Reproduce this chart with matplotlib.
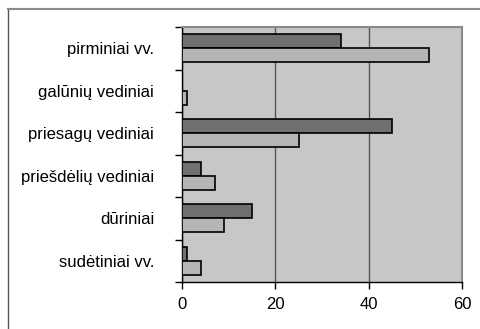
import matplotlib.pyplot as plt
import numpy as np
from matplotlib.lines import Line2D

plt.rcParams['font.family'] = ['Liberation Sans', 'DejaVu Sans']

categories = ["pirminiai vv.", "galūnių vediniai", "priesagų vediniai",
              "priešdėlių vediniai", "dūriniai", "sudėtiniai vv."]
dark_values = [34, 0, 45, 4, 15, 1]
light_values = [53, 1, 25, 7, 9, 4]
x_ticks = [0, 20, 40, 60]

fig = plt.figure(figsize=(4.8, 3.29), dpi=100)
ax = fig.add_axes([182 / 480, 1 - 282 / 329, 280 / 480, 255 / 329])

pos = np.arange(len(categories))
h = 0.33
ax.barh(pos - h / 2, dark_values, height=h, color="#707072",
        edgecolor="black", linewidth=1.2, zorder=3)
ax.barh(pos + h / 2, light_values, height=h, color="#b5b5b8",
        edgecolor="black", linewidth=1.2, zorder=3)

ax.set_facecolor("#c7c7c9")
ax.set_xlim(0, 60)
ax.set_ylim(len(categories) - 0.5, -0.5)
ax.set_xticks(x_ticks)
ax.set_yticks(np.arange(len(categories) + 1) - 0.5, minor=True)
ax.set_yticks(pos)
ax.set_yticklabels(categories)
ax.tick_params(axis="y", which="major", length=0, pad=20, labelsize=12)
ax.tick_params(axis="y", which="minor", length=5, width=1, color="black")
ax.tick_params(axis="x", length=5, width=1, color="black", pad=6, labelsize=12)

ax.xaxis.grid(True, color="#555555", linewidth=1, zorder=1)
ax.set_axisbelow(True)

for side in ["top", "right"]:
    ax.spines[side].set_color("#8a8a8a")
    ax.spines[side].set_linewidth(1.5)
for side in ["left", "bottom"]:
    ax.spines[side].set_color("black")
    ax.spines[side].set_linewidth(1)

# outer frame (left and top edges only visible)
fx = 7.5 / 480
fy = 1 - 9 / 329
fig.add_artist(Line2D([fx, fx], [0, fy], transform=fig.transFigure,
                      color="#555555", linewidth=1))
fig.add_artist(Line2D([fx, 1], [fy, fy], transform=fig.transFigure,
                      color="#8a8a8a", linewidth=1.5))

fig.savefig("out.png", dpi=100)
